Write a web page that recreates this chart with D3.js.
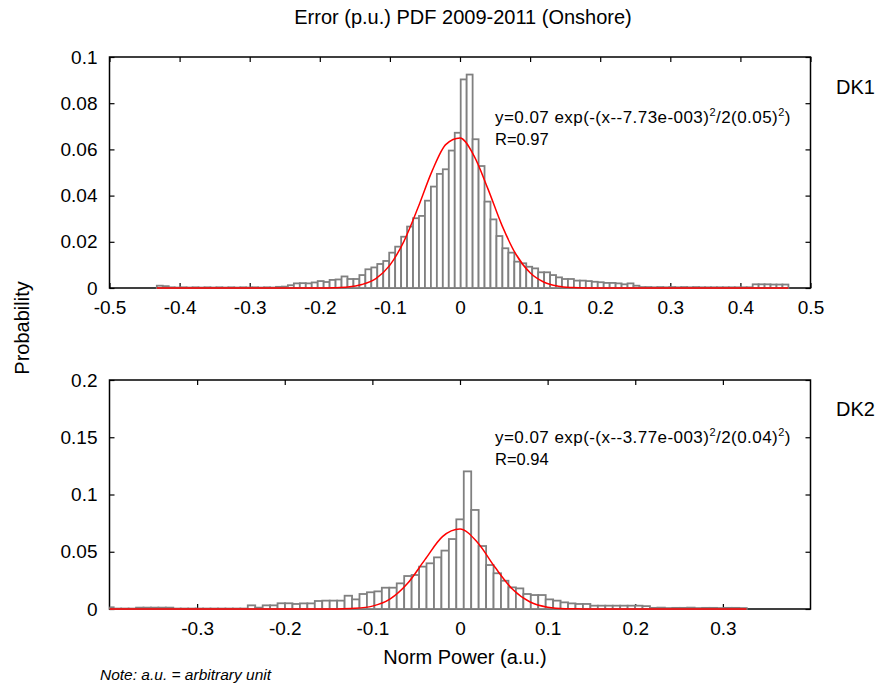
<!DOCTYPE html>
<html>
<head>
<meta charset="utf-8">
<script src="https://cdn.jsdelivr.net/npm/d3@7"></script>
<style>
body { margin: 0; background: #fff; }
text { font-family: "Liberation Sans", Arial, sans-serif; fill: #000; }
</style>
</head>
<body>
<svg id="chart" width="885" height="688"></svg>
<script>
// ---- data ----
// DK1 histogram: bins of equal width starting at topBinStart
const topBinStart = -0.4325;
const topBinWidth = 0.0085;
const topProb = [
  0.0010, 0.0008, 0.0003, 0.0002, 0.0003, 0.0002, 0.0003, 0.0002, 0.0003, 0.0002,
  0.0003, 0.0002, 0.0003, 0.0002, 0.0003, 0.0002, 0.0003, 0.0002, 0.0003, 0.0002,
  0.0005, 0.0006, 0.0012, 0.0020, 0.0021, 0.0020, 0.0024, 0.0030, 0.0026, 0.0035,
  0.0037, 0.0050, 0.0039, 0.0039, 0.0056, 0.0081, 0.0089, 0.0104, 0.0117, 0.0153,
  0.0179, 0.0222, 0.0266, 0.0302, 0.0312, 0.0378, 0.0439, 0.0494, 0.0514, 0.0595,
  0.0672, 0.0903, 0.0924, 0.0644, 0.0528, 0.0374, 0.0297, 0.0225, 0.0172, 0.0153,
  0.0114, 0.0107, 0.0092, 0.0085, 0.0068, 0.0068, 0.0056, 0.0046, 0.0039, 0.0039,
  0.0032, 0.0032, 0.0030, 0.0027, 0.0025, 0.0022, 0.0022, 0.0020, 0.0016, 0.0020,
  0.0010, 0.0004, 0.0004, 0.0003, 0.0004, 0.0003, 0.0004, 0.0003, 0.0004, 0.0003,
  0.0004, 0.0003, 0.0003, 0.0003, 0.0003, 0.0003, 0.0003, 0.0003, 0.0003, 0.0003,
  0.0016, 0.0016, 0.0016, 0.0015, 0.0015, 0.0015
];
// DK1 fitted curve
const topFitX = [-0.4325, -0.22, -0.20, -0.18, -0.16, -0.14, -0.12, -0.10, -0.08, -0.06, -0.04, -0.02, 0.00,
                 0.02, 0.04, 0.06, 0.08, 0.10, 0.12, 0.14, 0.16, 0.18, 0.20, 0.4685];
const topFitY = [0, 0, 0.0000, 0.0001, 0.0004, 0.0015, 0.0041, 0.0099, 0.0202, 0.0347, 0.0505, 0.0622, 0.0649,
                 0.0572, 0.0428, 0.0270, 0.0145, 0.0066, 0.0025, 0.0008, 0.0002, 0.0000, 0, 0];

// DK2 histogram
const botBinStart = -0.4037;
const botBinWidth = 0.0085;
const botProb = [
  0.0015, 0.0004, 0.0004, 0.0004, 0.0012, 0.0012, 0.0012, 0.0012, 0.0012, 0.0004,
  0.0004, 0.0004, 0.0004, 0.0004, 0.0004, 0.0004, 0.0004, 0.0004, 0.0004, 0.0032,
  0.0012, 0.0032, 0.0032, 0.0050, 0.0050, 0.0044, 0.0049, 0.0049, 0.0070, 0.0073,
  0.0073, 0.0073, 0.0116, 0.0084, 0.0131, 0.0146, 0.0154, 0.0186, 0.0186, 0.0224,
  0.0288, 0.0297, 0.0370, 0.0399, 0.0451, 0.0510, 0.0611, 0.0783, 0.1202, 0.0865,
  0.0550, 0.0384, 0.0312, 0.0247, 0.0189, 0.0180, 0.0131, 0.0122, 0.0122, 0.0084,
  0.0073, 0.0058, 0.0049, 0.0044, 0.0044, 0.0029, 0.0029, 0.0029, 0.0029, 0.0029,
  0.0029, 0.0029, 0.0025, 0.0010, 0.0012, 0.0008, 0.0010, 0.0010, 0.0012, 0.0008,
  0.0010, 0.0010, 0.0008, 0.0010, 0.0010, 0.0008
];
const botFitX = [-0.40, -0.18, -0.16, -0.14, -0.12, -0.10, -0.08, -0.06, -0.04, -0.02, 0.00,
                 0.02, 0.04, 0.06, 0.08, 0.10, 0.12, 0.14, 0.16, 0.327];
const botFitY = [0, 0, 0.0000, 0.0001, 0.0006, 0.0025, 0.0086, 0.0222, 0.0431, 0.0632, 0.0698,
                 0.0581, 0.0364, 0.0172, 0.0061, 0.0016, 0.0003, 0.0001, 0, 0];

const topXTicks = [-0.5, -0.4, -0.3, -0.2, -0.1, 0, 0.1, 0.2, 0.3, 0.4, 0.5];
const topYTicks = [0, 0.02, 0.04, 0.06, 0.08, 0.1];
const botXTicks = [-0.3, -0.2, -0.1, 0, 0.1, 0.2, 0.3];
const botYTicks = [0, 0.05, 0.1, 0.15, 0.2];

const panels = [
  { name: 'DK1', top: 57, bottom: 288, xDomain: [-0.5, 0.5], yDomain: [0, 0.1],
    xTicks: topXTicks, yTicks: topYTicks, binStart: topBinStart, binWidth: topBinWidth, prob: topProb,
    fitX: topFitX, fitY: topFitY, eq: ['y=0.07 exp(-(x--7.73e-003)', '/2(0.05)', ')'], r: 'R=0.97',
    eqY: 123, nameY: 94 },
  { name: 'DK2', top: 380, bottom: 609, xDomain: [-0.4, 0.4], yDomain: [0, 0.2],
    xTicks: botXTicks, yTicks: botYTicks, binStart: botBinStart, binWidth: botBinWidth, prob: botProb,
    fitX: botFitX, fitY: botFitY, eq: ['y=0.07 exp(-(x--3.77e-003)', '/2(0.04)', ')'], r: 'R=0.94',
    eqY: 443, nameY: 416 }
];

const left = 109.5, right = 810.5;
const svg = d3.select('#chart');

svg.append('text')
  .attr('x', 463).attr('y', 24)
  .attr('text-anchor', 'middle')
  .style('font-size', '20px')
  .text('Error (p.u.) PDF 2009-2011 (Onshore)');

svg.append('text')
  .attr('transform', 'translate(29,' + 328 + ') rotate(-90)')
  .attr('text-anchor', 'middle')
  .style('font-size', '20px')
  .text('Probability');

svg.append('text')
  .attr('x', 465).attr('y', 664)
  .attr('text-anchor', 'middle')
  .style('font-size', '20px')
  .text('Norm Power (a.u.)');

svg.append('text')
  .attr('x', 100).attr('y', 680)
  .style('font-size', '15.5px')
  .style('font-style', 'italic')
  .text('Note: a.u. = arbitrary unit');

panels.forEach(function (p, idx) {
  let x = d3.scaleLinear().domain(p.xDomain).range([left, right]);
  let y = d3.scaleLinear().domain(p.yDomain).range([p.bottom, p.top]);
  let g = svg.append('g');

  let clipId = 'clip' + idx;
  svg.append('clipPath').attr('id', clipId)
    .append('rect')
    .attr('x', left).attr('y', p.top - 2)
    .attr('width', right - left).attr('height', p.bottom - p.top + 4);

  // axes with inward ticks on all four sides
  let fmt = d => String(d);
  g.append('g').attr('transform', 'translate(0,' + p.bottom + ')')
    .call(d3.axisBottom(x).tickValues(p.xTicks).tickSize(-5).tickPadding(13).tickFormat(fmt));
  g.append('g').attr('transform', 'translate(0,' + p.top + ')')
    .call(d3.axisTop(x).tickValues(p.xTicks).tickSize(-5).tickFormat(''));
  g.append('g').attr('transform', 'translate(' + left + ',0)')
    .call(d3.axisLeft(y).tickValues(p.yTicks).tickSize(-5).tickPadding(12).tickFormat(fmt));
  g.append('g').attr('transform', 'translate(' + right + ',0)')
    .call(d3.axisRight(y).tickValues(p.yTicks).tickSize(-5).tickFormat(''));
  g.selectAll('.domain').remove();
  g.selectAll('.tick line').attr('stroke', '#000').attr('stroke-width', 1.2);
  g.selectAll('.tick text').style('font-size', '19px').attr('font-family', null);

  g.append('rect')
    .attr('x', left).attr('y', p.top)
    .attr('width', right - left).attr('height', p.bottom - p.top)
    .attr('fill', 'none').attr('stroke', '#000').attr('stroke-width', 1.5);

  // histogram bars
  svg.append('g').attr('clip-path', 'url(#' + clipId + ')')
    .selectAll('rect')
    .data(p.prob)
    .join('rect')
    .attr('x', (d, i) => x(p.binStart + i * p.binWidth))
    .attr('width', (d, i) => x(p.binStart + (i + 1) * p.binWidth) - x(p.binStart + i * p.binWidth))
    .attr('y', d => y(d))
    .attr('height', d => p.bottom - y(d))
    .attr('fill', '#fff')
    .attr('stroke', '#808080')
    .attr('stroke-width', 1.8);

  // fitted gaussian
  let line = d3.line()
    .x((d, i) => x(p.fitX[i]))
    .y(d => y(d))
    .curve(d3.curveMonotoneX);
  svg.append('path')
    .attr('clip-path', 'url(#' + clipId + ')')
    .attr('d', line(p.fitY))
    .attr('fill', 'none')
    .attr('stroke', '#ff0000')
    .attr('stroke-width', 1.5);

  // fit annotation
  let eq = svg.append('text')
    .attr('x', 495).attr('y', p.eqY)
    .style('font-size', '17px')
    .style('letter-spacing', '0.45px');
  eq.append('tspan').text(p.eq[0]);
  eq.append('tspan').attr('dy', -7).style('font-size', '11px').text('2');
  eq.append('tspan').attr('dy', 7).text(p.eq[1]);
  eq.append('tspan').attr('dy', -7).style('font-size', '11px').text('2');
  eq.append('tspan').attr('dy', 7).text(p.eq[2]);
  svg.append('text')
    .attr('x', 495).attr('y', p.eqY + 22)
    .style('font-size', '16.5px')
    .text(p.r);

  svg.append('text')
    .attr('x', 836).attr('y', p.nameY)
    .style('font-size', '20px')
    .text(p.name);
});
</script>
</body>
</html>
